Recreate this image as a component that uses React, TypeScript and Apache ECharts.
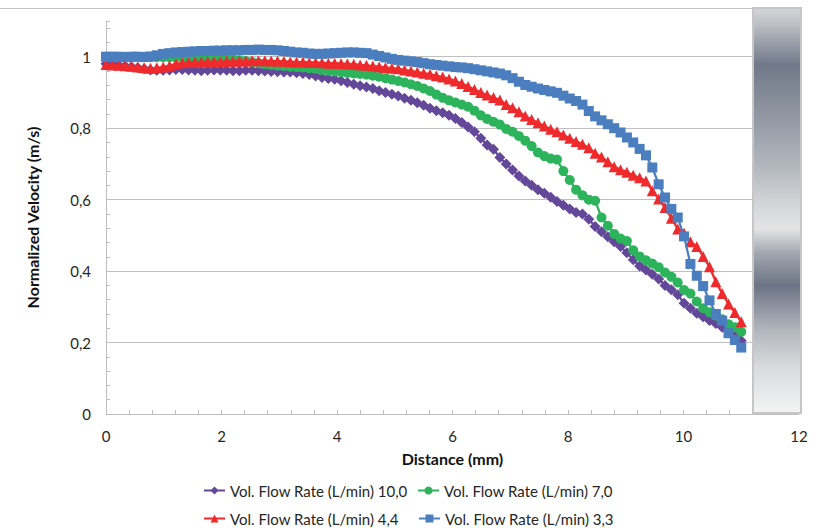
import React, { useEffect, useRef } from 'react';
import * as echarts from 'echarts';

// Distance along the channel (mm)
const DISTANCE = [
  0, 0.11, 0.22, 0.33, 0.44, 0.55, 0.66, 0.77, 0.88, 0.99,
  1.10, 1.21, 1.32, 1.43, 1.54, 1.65, 1.76, 1.87, 1.98, 2.09,
  2.20, 2.31, 2.42, 2.53, 2.64, 2.75, 2.86, 2.97, 3.08, 3.19,
  3.30, 3.41, 3.52, 3.63, 3.74, 3.85, 3.96, 4.07, 4.18, 4.29,
  4.40, 4.51, 4.62, 4.73, 4.84, 4.95, 5.06, 5.17, 5.28, 5.39,
  5.50, 5.61, 5.72, 5.83, 5.94, 6.05, 6.16, 6.27, 6.38, 6.49,
  6.60, 6.71, 6.82, 6.93, 7.04, 7.15, 7.26, 7.37, 7.48, 7.59,
  7.70, 7.81, 7.92, 8.03, 8.14, 8.25, 8.36, 8.47, 8.58, 8.69,
  8.80, 8.91, 9.02, 9.13, 9.24, 9.35, 9.46, 9.57, 9.68, 9.79,
  9.90, 10.01, 10.12, 10.23, 10.34, 10.45, 10.56, 10.67, 10.78, 10.89,
  11.00,
];

// Normalized velocity, Vol. Flow Rate 10,0 L/min
const FLOW_10_0 = [
  0.980, 0.978, 0.976, 0.974, 0.972, 0.969, 0.966, 0.963, 0.962, 0.962,
  0.963, 0.964, 0.964, 0.963, 0.962, 0.961, 0.962, 0.963, 0.963, 0.962,
  0.961, 0.961, 0.962, 0.962, 0.961, 0.960, 0.959, 0.958, 0.957, 0.957,
  0.955, 0.953, 0.950, 0.946, 0.942, 0.939, 0.937, 0.933, 0.928, 0.923,
  0.919, 0.915, 0.911, 0.905, 0.900, 0.895, 0.890, 0.884, 0.878, 0.871,
  0.864, 0.856, 0.849, 0.843, 0.836, 0.827, 0.816, 0.803, 0.790, 0.772,
  0.753, 0.741, 0.718, 0.700, 0.683, 0.666, 0.652, 0.640, 0.628, 0.618,
  0.607, 0.595, 0.584, 0.574, 0.564, 0.560, 0.545, 0.525, 0.510, 0.496,
  0.482, 0.469, 0.451, 0.432, 0.414, 0.403, 0.391, 0.378, 0.360, 0.348,
  0.334, 0.310, 0.296, 0.282, 0.272, 0.262, 0.253, 0.243, 0.231, 0.219,
  0.205,
];

// Normalized velocity, Vol. Flow Rate 7,0 L/min
const FLOW_7_0 = [
  1.000, 1.000, 1.000, 1.000, 1.000, 1.000, 1.000, 0.999, 0.999, 0.999,
  0.999, 0.998, 0.998, 0.997, 0.997, 0.996, 0.996, 0.995, 0.994, 0.993,
  0.992, 0.990, 0.988, 0.985, 0.982, 0.979, 0.977, 0.975, 0.974, 0.972,
  0.971, 0.970, 0.968, 0.966, 0.963, 0.961, 0.959, 0.957, 0.955, 0.953,
  0.952, 0.950, 0.947, 0.944, 0.940, 0.936, 0.932, 0.928, 0.923, 0.918,
  0.911, 0.904, 0.894, 0.885, 0.878, 0.872, 0.866, 0.860, 0.849, 0.836,
  0.826, 0.818, 0.810, 0.798, 0.790, 0.778, 0.765, 0.750, 0.732, 0.722,
  0.715, 0.712, 0.680, 0.655, 0.628, 0.612, 0.600, 0.597, 0.550, 0.527,
  0.504, 0.491, 0.484, 0.458, 0.441, 0.430, 0.421, 0.411, 0.396, 0.384,
  0.368, 0.347, 0.337, 0.315, 0.296, 0.285, 0.275, 0.265, 0.251, 0.243,
  0.230,
];

// Normalized velocity, Vol. Flow Rate 4,4 L/min
const FLOW_4_4 = [
  0.978, 0.977, 0.976, 0.975, 0.973, 0.971, 0.969, 0.968, 0.969, 0.971,
  0.975, 0.980, 0.983, 0.984, 0.985, 0.985, 0.986, 0.986, 0.986, 0.987,
  0.987, 0.988, 0.988, 0.989, 0.989, 0.989, 0.988, 0.988, 0.987, 0.986,
  0.985, 0.985, 0.984, 0.984, 0.983, 0.982, 0.982, 0.981, 0.980, 0.979,
  0.977, 0.976, 0.974, 0.972, 0.970, 0.968, 0.966, 0.963, 0.960, 0.957,
  0.954, 0.951, 0.947, 0.943, 0.938, 0.932, 0.925, 0.917, 0.908, 0.900,
  0.893, 0.886, 0.879, 0.866, 0.857, 0.846, 0.834, 0.824, 0.815, 0.806,
  0.797, 0.790, 0.781, 0.772, 0.763, 0.755, 0.745, 0.730, 0.719, 0.706,
  0.692, 0.684, 0.677, 0.668, 0.661, 0.652, 0.625, 0.602, 0.578, 0.548,
  0.518, 0.506, 0.482, 0.469, 0.441, 0.412, 0.370, 0.337, 0.308, 0.284,
  0.258,
];

// Normalized velocity, Vol. Flow Rate 3,3 L/min
const FLOW_3_3 = [
  1.000, 1.000, 1.000, 0.999, 1.000, 1.000, 0.999, 1.001, 1.004, 1.008,
  1.010, 1.012, 1.013, 1.014, 1.015, 1.016, 1.016, 1.017, 1.017, 1.018,
  1.018, 1.018, 1.019, 1.019, 1.020, 1.019, 1.019, 1.018, 1.016, 1.014,
  1.012, 1.011, 1.009, 1.008, 1.008, 1.009, 1.010, 1.011, 1.012, 1.012,
  1.011, 1.010, 1.006, 1.002, 0.998, 0.994, 0.991, 0.989, 0.987, 0.985,
  0.982, 0.979, 0.977, 0.975, 0.973, 0.971, 0.970, 0.968, 0.965, 0.962,
  0.959, 0.956, 0.953, 0.948, 0.940, 0.930, 0.921, 0.916, 0.911, 0.907,
  0.903, 0.899, 0.891, 0.883, 0.876, 0.866, 0.848, 0.833, 0.822, 0.811,
  0.800, 0.788, 0.774, 0.760, 0.742, 0.724, 0.690, 0.643, 0.606, 0.574,
  0.550, 0.497, 0.420, 0.387, 0.358, 0.318, 0.280, 0.261, 0.226, 0.207,
  0.186,
];

const SERIES_NAMES = [
  'Vol. Flow Rate (L/min) 10,0',
  'Vol. Flow Rate (L/min) 7,0',
  'Vol. Flow Rate (L/min) 4,4',
  'Vol. Flow Rate (L/min) 3,3',
];
const SERIES_COLORS = ['#634799', '#2db35c', '#ee2a2c', '#4a7ebf'];
const SERIES_SYMBOLS = ['diamond', 'circle', 'triangle', 'rect'];
const SERIES_SYMBOL_SIZES = [11, 10, 11, 10];

const X_AXIS_TITLE = 'Distance (mm)';
const Y_AXIS_TITLE = 'Normalized Velocity (m/s)';

export default function App() {
  const ref = useRef<HTMLDivElement>(null);

  useEffect(() => {
    if (!ref.current) return;
    const chart = echarts.init(ref.current, null, { renderer: 'svg' });
    const values = [FLOW_10_0, FLOW_7_0, FLOW_4_4, FLOW_3_3];
    const font = 'Lato, "Open Sans", sans-serif';
    const gray = '#bfbfbf';
    const textColor = '#262626';

    const legendPos = [
      { left: 203, top: 483 },
      { left: 417, top: 483 },
      { left: 203, top: 511 },
      { left: 418, top: 511 },
    ];

    chart.setOption({
      animation: false,
      backgroundColor: '#ffffff',
      textStyle: { fontFamily: font },
      grid: {
        left: 106,
        right: 15,
        top: 21,
        bottom: 114,
        containLabel: false,
        outerBoundsMode: 'none',
      },
      legend: SERIES_NAMES.map((name, i) => ({
        data: [{ name }],
        left: legendPos[i].left,
        top: legendPos[i].top,
        padding: 0,
        itemWidth: 21,
        itemHeight: 10,
        selectedMode: false,
        textStyle: { fontFamily: font, fontSize: 15, color: textColor },
      })),
      xAxis: {
        type: 'value',
        min: 0,
        max: 12,
        interval: 2,
        name: X_AXIS_TITLE,
        nameLocation: 'middle',
        nameGap: 36,
        nameTextStyle: { fontFamily: font, fontSize: 16, fontWeight: 'bold', color: '#111' },
        axisLine: { show: true, lineStyle: { color: gray, width: 1 } },
        axisTick: { show: true, inside: true, length: 4, lineStyle: { color: gray } },
        minorTick: { show: true, splitNumber: 5, length: 4, lineStyle: { color: gray } },
        axisLabel: { fontFamily: font, fontSize: 15, color: textColor, margin: 14 },
        splitLine: { show: false },
      },
      yAxis: [
        {
          type: 'value',
          min: 0,
          max: 1.1,
          interval: 0.2,
          position: 'left',
          name: Y_AXIS_TITLE,
          nameLocation: 'middle',
          nameGap: 66,
          nameTextStyle: { fontFamily: font, fontSize: 16, fontWeight: 'bold', color: '#111' },
          axisLine: { show: true, lineStyle: { color: gray, width: 1 } },
          axisTick: { show: false },
          axisLabel: {
            fontFamily: font,
            fontSize: 15,
            color: textColor,
            margin: 15,
            showMaxLabel: false,
            formatter: (v: number) => (v > 1.05 ? '' : String(Math.round(v * 10) / 10).replace('.', ',')),
          },
          splitLine: { show: true, showMaxLine: false, lineStyle: { color: gray, width: 1 } },
        },
        {
          type: 'value',
          min: 0,
          max: 1.1,
          interval: 0.04,
          position: 'left',
          axisLine: { show: false },
          axisTick: { show: true, inside: true, length: 4, lineStyle: { color: gray } },
          axisLabel: { show: false },
          splitLine: { show: false },
        },
      ],
      series: values.map((vals, i) => ({
        type: 'line',
        name: SERIES_NAMES[i],
        yAxisIndex: 0,
        data: DISTANCE.map((d, j) => [d, vals[j]]),
        symbol: SERIES_SYMBOLS[i],
        symbolSize: SERIES_SYMBOL_SIZES[i],
        showSymbol: true,
        showAllSymbol: true,
        lineStyle: { color: SERIES_COLORS[i], width: 2.25 },
        itemStyle: { color: SERIES_COLORS[i], borderWidth: 0 },
        emphasis: { disabled: true },
        z: 2 + i,
      })),
      graphic: [
        {
          type: 'line',
          z: 100,
          shape: { x1: 0, y1: 8.5, x2: 753, y2: 8.5 },
          style: { stroke: '#c4c4c4', lineWidth: 1 },
        },
        {
          type: 'rect',
          z: 100,
          shape: { x: 753, y: 8, width: 48, height: 405 },
          style: {
            fill: new echarts.graphic.LinearGradient(0, 0, 0, 1, [
              { offset: 0, color: '#d4d7da' },
              { offset: 0.04, color: '#bcc0c5' },
              { offset: 0.14, color: '#717989' },
              { offset: 0.26, color: '#8f96a1' },
              { offset: 0.4, color: '#b5bac0' },
              { offset: 0.47, color: '#cfd1d4' },
              { offset: 0.545, color: '#e4e4e5' },
              { offset: 0.605, color: '#a2a8b0' },
              { offset: 0.685, color: '#6c7484' },
              { offset: 0.8, color: '#b4b8bf' },
              { offset: 0.885, color: '#d8dadc' },
              { offset: 1, color: '#f4f4f4' },
            ]),
            stroke: '#c6c6c6',
            lineWidth: 2,
          },
        },
      ],
    });

    return () => chart.dispose();
  }, []);

  return (
    <div
      ref={ref}
      style={{ position: 'fixed', left: 0, top: 0, width: 814, height: 528, background: '#fff' }}
    />
  );
}
